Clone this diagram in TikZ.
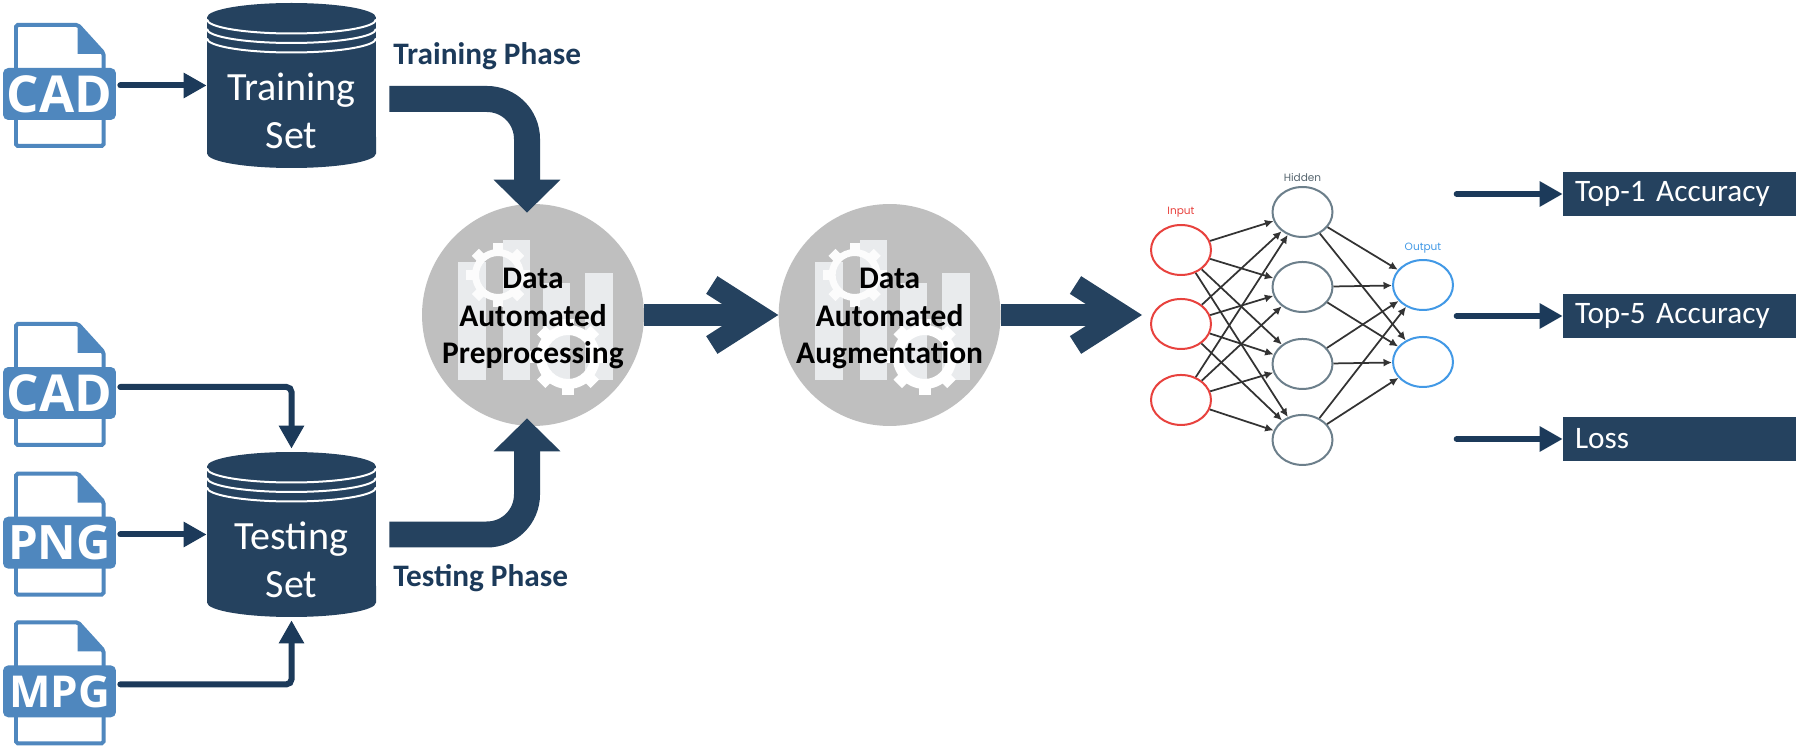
\documentclass[tikz,border=0pt]{standalone}
\usepackage{fontspec}
\setmainfont{Carlito}
\newfontfamily\iconfont{Open Sans}
\newfontfamily\netfont{Poppins}
\usepackage{tikz}
\usetikzlibrary{positioning,arrows.meta,backgrounds,calc,shapes.geometric}
\definecolor{navy}{HTML}{25425F}
\definecolor{navyline}{HTML}{1C3A5A}
\definecolor{fileblue}{HTML}{4F87BE}
\definecolor{circgray}{HTML}{BFBFBF}
\definecolor{barwhite}{HTML}{E9EBED}
\definecolor{inred}{HTML}{E8423E}
\definecolor{hidgray}{HTML}{6C7F8B}
\definecolor{outblue}{HTML}{4299E6}
\tikzstyle{filebox}=[rectangle, rounded corners=3pt, fill=fileblue, text=white, minimum width=2.26cm,
                    minimum height=1.04cm, inner sep=0pt, font=\iconfont\bfseries\fontsize{29}{30}\selectfont]
\tikzstyle{dbase}=[rectangle, minimum width=3.38cm, minimum height=3.3cm, inner sep=0pt]
\tikzstyle{dbtext}=[text=white, align=center, font=\fontsize{22.8}{27.3}\selectfont]
\tikzstyle{ringline}=[white, line width=0.04cm]
\tikzstyle{phase}=[anchor=base west, text=navyline, inner sep=0pt, font=\bfseries\fontsize{17.8}{21}\selectfont]
\tikzstyle{procirc}=[circle, fill=circgray, minimum size=4.44cm, inner sep=0pt]
\tikzstyle{protext}=[align=center, font=\bfseries\fontsize{17.9}{21.3}\selectfont]
\tikzstyle{smallflow}=[navyline, line width=0.12cm, line cap=round, rounded corners=0.1cm,
                    -{Triangle[length=0.46cm,width=0.48cm]}]
\tikzstyle{bigflow}=[navy, line width=0.52cm, rounded corners=0.8cm, -{Triangle[length=0.66cm,width=1.3cm]}]
\tikzstyle{fatflow}=[navy, line width=0.44cm, -{Straight Barb[length=0.94cm,width=1.2cm,line width=0.42cm]}]
\tikzstyle{neuron}=[ellipse, fill=white, line width=0.04cm, minimum width=1.2cm, minimum height=1cm, inner sep=0pt]
\tikzstyle{netline}=[black!80, line width=0.035cm, -{Latex[length=0.17cm,width=0.16cm]}]
\tikzstyle{netlabel}=[inner sep=0pt, font=\netfont\fontsize{6}{7}\selectfont]
\tikzstyle{metric}=[rectangle, fill=navy, text=white, minimum height=0.88cm, text width=4.18cm, inner xsep=0.24cm,
                    inner ysep=0pt, align=left, font=\fontsize{17.8}{21}\selectfont]
\tikzset{
  filepage/.pic={
    \draw[fileblue, fill=white, line width=0.08cm, rounded corners=1pt]
      (-43.5,-69) -- (18.5,-69) -- (44,-41) -- (44,52) -- (-43.5,52) -- cycle;
    \fill[fileblue] (18,-69) -- (45,-40) -- (18,-40) -- cycle;
  },
  chartmark/.pic={
    \fill[barwhite] (-75,-53) rectangle (-47,65);
    \fill[barwhite] (-30,-75) rectangle (-3,65);
    \fill[barwhite] (10,-32) rectangle (37,65);
    \fill[barwhite] (52,-42) rectangle (80,65);
    \foreach \a in {0,45,...,315} {
      \fill[white!96!circgray, shift={(-35,-40)}, rotate=\a] (-5,-32) rectangle (5,-24);
      \fill[white, shift={(35,42)}, rotate=\a] (-6,-38) rectangle (6,-30);
    }
    \fill[white!96!circgray, even odd rule] (-35,-40) circle [radius=0.52cm] (-35,-40) circle [radius=0.38cm];
    \fill[white, even odd rule] (35,42) circle [radius=0.64cm] (35,42) circle [radius=0.44cm];
  }
}
\newcommand{\cylbody}[1]{
 \fill[navy] ($(#1.center)+(-84.5,-68)$) arc[start angle=180, end angle=0, x radius=1.69cm, y radius=0.29cm]
   -- ($(#1.center)+(84.5,68)$) arc[start angle=0, end angle=-180, x radius=1.69cm, y radius=0.29cm] -- cycle;
 \foreach \d in {-66,-56.5,-47}
  \draw[ringline] ($(#1.center)+(-84.5,\d)$) arc[start angle=180, end angle=360, x radius=1.69cm, y radius=0.28cm];
}

\begin{document}
\begin{tikzpicture}[x=0.02cm,y=-0.02cm]
\useasboundingbox (0,0) rectangle (1799,749);

\node (CADA) [filebox] at (59.5,94) {CAD};
\node (CADB) [filebox] at (59.5,393) {CAD};
\node (PNGF) [filebox,font=\iconfont\bfseries\fontsize{27}{30}\selectfont,below=1.94cm of CADB] {PNG};
\node (MPGF) [filebox,font=\iconfont\bfseries\fontsize{25}{30}\selectfont,below=1.92cm of PNGF] {MPG};
\begin{scope}[on background layer]
 \fill[white] (0,0) rectangle (1799,749);
 \foreach \f in {CADA,CADB,PNGF,MPGF} \pic at (\f) {filepage};
\end{scope}

\node (TRSET) [dbase] at (291.5,85.5) {};
\node (TSSET) [dbase] at (291.5,534.5) {};
\cylbody{TRSET}
\cylbody{TSSET}
\node (TRTXT) [dbtext] at ([yshift=-0.5cm]TRSET.center) {Training\\Set};
\node (TSTXT) [dbtext] at ([yshift=-0.5cm]TSSET.center) {Testing\\Set};

 \draw[smallflow] (CADA.east |- TRSET.center) ++(0.08cm,0) -- (TRSET.west);
 \draw[smallflow] ([xshift=0.08cm,yshift=0.12cm]CADB.east) -| ([yshift=0.06cm]TSSET.north);
 \draw[smallflow] (PNGF.east |- TSSET.center) ++(0.08cm,0) -- (TSSET.west);
 \draw[smallflow] ([xshift=0.08cm,yshift=0.14cm]MPGF.east) -| ([yshift=-0.06cm]TSSET.south);

\node (TRPH) [phase] at (393,65) {Training Phase};
\node (TSPH) [phase] at (393,587) {Testing Phase};

\node (PREP) [procirc] at (533,315) {};
\node (AUGM) [procirc, right=2.68cm of PREP] {};
\pic at (PREP) {chartmark};
\pic at (AUGM) {chartmark};
\node (PRTX) [protext] at ([yshift=-0.07cm]PREP.center) {Data\\Automated\\Preprocessing};
\node (AUTX) [protext] at ([yshift=-0.07cm]AUGM.center) {Data\\Automated\\Augmentation};

 \draw[bigflow] ([xshift=0.26cm,yshift=-0.27cm]TRSET.east) -| ([xshift=-0.12cm,yshift=-0.18cm]PREP.north);
 \draw[bigflow] ([xshift=0.26cm]TSSET.east) -| ([xshift=-0.12cm,yshift=0.16cm]PREP.south);
 \draw[fatflow] (PREP.east) -- (AUGM.west);

\node (INA) [neuron, draw=inred] at (1181,250) {};
\node (INB) [neuron, draw=inred, below=0.44cm of INA] {};
\node (INC) [neuron, draw=inred, below=0.48cm of INB] {};
\node (HIA) [neuron, draw=hidgray] at (1302.5,212) {};
\node (HIB) [neuron, draw=hidgray, below=0.46cm of HIA] {};
\node (HIC) [neuron, draw=hidgray, below=0.5cm of HIB] {};
\node (HID) [neuron, draw=hidgray, below=0.48cm of HIC] {};
\node (OUA) [neuron, draw=outblue] at (1423,285) {};
\node (OUB) [neuron, draw=outblue, below=0.5cm of OUA] {};
\node (INL) [netlabel, text=inred, above=0.12cm of INA] {Input};
\node (HIL) [netlabel, text=hidgray!80!black, above=0.08cm of HIA] {Hidden};
\node (OUL) [netlabel, text=outblue, above=0.11cm of OUA] {Output};

 \draw[fatflow, shorten >=0.16cm] (AUGM.east) -- (AUGM.east -| INB.west);
 \foreach \a in {INA,INB,INC} \foreach \b in {HIA,HIB,HIC,HID} \draw[netline] (\a) -- (\b);
 \foreach \a in {HIA,HIB,HIC,HID} \foreach \b in {OUA,OUB} \draw[netline] (\a) -- (\b);

\node (TOPA) [metric] at (1679.5,194) {Top-1 Accuracy};
\node (TOPB) [metric] at (1679.5,316) {Top-5 Accuracy};
\node (LOSS) [metric] at (1679.5,439) {Loss};
 \foreach \m in {TOPA,TOPB,LOSS} \draw[smallflow] ([xshift=-2.12cm]\m.west) -- (\m.west);

\end{tikzpicture}
\end{document}
